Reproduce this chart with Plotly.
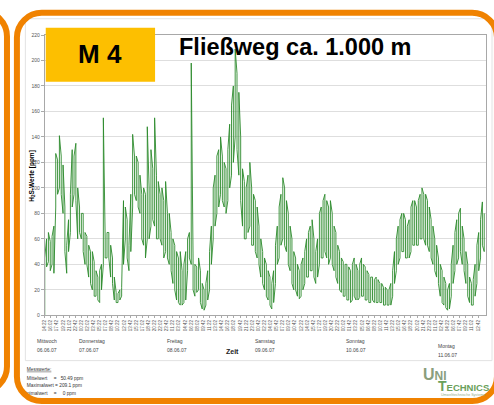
import plotly.graph_objects as go

W, H = 494, 405

# ---------------- data ----------------
# H2S readings, summarised per 30-minute bin (lowest / highest reading in the bin),
# first bin: Wed 06.06.07 14:22
bin_hours = 0.5
h2s_min = [
    0, 38, 42, 35, 40, 33, 85, 95, 100, 95, 80, 50, 33, 50, 65, 85, 95, 90, 60, 65,
    60, 50, 40, 40, 30, 25, 20, 15, 15, 12, 10, 20, 40, 45, 45, 45, 30, 25, 12, 10,
    10, 12, 15, 40, 60, 45, 35, 50, 85, 95, 90, 85, 80, 60, 55, 45, 60, 60, 70, 75,
    70, 60, 60, 60, 55, 45, 50, 45, 40, 35, 25, 20, 12, 10, 8, 8, 10, 12, 35, 45,
    40, 20, 15, 18, 20, 10, 5, 4, 8, 12, 20, 40, 60, 70, 80, 85, 95, 90, 85, 80,
    90, 100, 110, 120, 140, 130, 110, 90, 70, 60, 60, 65, 70, 55, 55, 50, 45, 40, 30, 25,
    20, 15, 12, 8, 5, 10, 25, 40, 45, 55, 60, 55, 50, 40, 35, 25, 20, 20, 15, 13,
    15, 20, 25, 30, 30, 35, 35, 30, 25, 30, 40, 45, 45, 50, 45, 40, 45, 40, 35, 30,
    25, 20, 18, 15, 15, 12, 12, 10, 12, 15, 12, 12, 14, 15, 15, 12, 12, 10, 10, 12,
    10, 10, 10, 10, 10, 8, 8, 8, 8, 8, 15, 25, 35, 40, 45, 50, 50, 45, 45, 45,
    50, 55, 55, 55, 55, 60, 60, 60, 55, 55, 50, 45, 40, 35, 30, 25, 15, 10, 8, 6,
    4, 5, 15, 25, 35, 40, 45, 50, 40, 35, 25, 15, 10, 8, 8, 15, 25, 35, 45, 55,
    50,
]
h2s_max = [
    45, 60, 65, 58, 62, 70, 127, 122, 141, 125, 118, 85, 55, 75, 95, 130, 125, 135, 100, 85,
    80, 80, 65, 62, 55, 50, 50, 42, 35, 30, 35, 40, 155, 60, 65, 65, 55, 45, 30, 18,
    17, 20, 22, 90, 85, 75, 55, 95, 142, 125, 125, 120, 110, 95, 100, 95, 148, 100, 130, 115,
    155, 110, 105, 95, 100, 90, 105, 80, 80, 65, 60, 55, 50, 45, 50, 35, 40, 50, 60, 65,
    198, 45, 40, 38, 45, 35, 25, 20, 25, 35, 50, 70, 100, 110, 125, 130, 140, 125, 120, 115,
    130, 150, 165, 180, 209, 190, 175, 140, 115, 105, 100, 110, 120, 100, 95, 90, 85, 70, 60, 50,
    45, 40, 35, 30, 25, 35, 55, 70, 85, 95, 108, 100, 90, 80, 70, 60, 50, 45, 40, 35,
    40, 45, 50, 60, 65, 70, 75, 60, 50, 60, 80, 85, 90, 95, 90, 85, 90, 80, 70, 65,
    55, 50, 45, 42, 40, 40, 38, 35, 40, 45, 40, 35, 40, 45, 40, 38, 35, 32, 30, 30,
    28, 30, 28, 25, 25, 22, 22, 20, 20, 25, 35, 50, 60, 70, 75, 80, 80, 75, 70, 75,
    85, 90, 90, 85, 90, 95, 100, 95, 95, 90, 85, 75, 70, 60, 55, 45, 40, 35, 30, 25,
    20, 25, 40, 55, 65, 75, 80, 84, 70, 60, 50, 40, 30, 25, 28, 40, 55, 65, 75, 89,
    80,
]
time_labels = [
    "14:22", "16:02", "17:42", "19:22", "21:02", "22:42",
    "00:22", "02:02", "03:42", "05:22", "07:02", "08:42", "10:22", "12:02", "13:42",
    "15:22", "17:02", "18:42", "20:22", "22:02", "23:42",
    "01:22", "03:02", "04:42", "06:22", "08:02", "09:42", "11:22", "13:02", "14:42",
    "16:22", "18:02", "19:42", "21:22", "23:02",
    "00:42", "02:22", "04:02", "05:42", "07:22", "09:02", "10:42", "12:22", "14:02",
    "15:42", "17:22", "19:02", "20:42", "22:22",
    "00:02", "01:42", "03:22", "05:02", "06:42", "08:22", "10:02", "11:42", "13:22",
    "15:02", "16:42", "18:22", "20:02", "21:42", "23:22",
    "01:02", "02:42", "04:22", "06:02", "07:42", "09:22", "11:02", "12:42",
]
tick_step_hours = 100 / 60
y_ticks = [0, 20, 40, 60, 80, 100, 120, 140, 160, 180, 200, 220]
day_names = ["Mittwoch", "Donnerstag", "Freitag", "Samstag", "Sonntag", "Montag"]
day_dates = ["06.06.07", "07.06.07", "08.06.07", "09.06.07", "10.06.07", "11.06.07"]
stat_names = ["Mittelwert", "Maximalwert", "Minimalwert"]
stat_values = ["50.49 ppm", "209.1 ppm", "0 ppm"]

# ---------------- helpers ----------------
def px(x):
    return x / W


def py(y):
    return 1 - y / H


def rrect(x0, y0, x1, y1, r):
    k = 0.5523 * r
    P = lambda x, y: f"{px(x):.5f},{py(y):.5f}"
    return (
        f"M {P(x0 + r, y0)} L {P(x1 - r, y0)} "
        f"C {P(x1 - r + k, y0)} {P(x1, y0 + r - k)} {P(x1, y0 + r)} "
        f"L {P(x1, y1 - r)} "
        f"C {P(x1, y1 - r + k)} {P(x1 - r + k, y1)} {P(x1 - r, y1)} "
        f"L {P(x0 + r, y1)} "
        f"C {P(x0 + r - k, y1)} {P(x0, y1 - r + k)} {P(x0, y1 - r)} "
        f"L {P(x0, y0 + r)} "
        f"C {P(x0, y0 + r - k)} {P(x0 + r - k, y0)} {P(x0 + r, y0)} Z"
    )


FONT = "Liberation Sans, Arial, sans-serif"
ORANGE = "#F08200"

# min/max envelope drawn as one continuous stroke (each bin: a vertical stroke)
xs, ys = [], []
for i, (lo, hi) in enumerate(zip(h2s_min, h2s_max)):
    t = i * bin_hours
    pair = (lo, hi) if i % 2 == 0 else (hi, lo)
    xs += [t, t]
    ys += list(pair)
tickvals = [k * tick_step_hours for k in range(len(time_labels))]

fig = go.Figure()
fig.add_trace(go.Scatter(
    x=xs, y=ys, mode="lines",
    line=dict(color="#2b8a2b", width=0.9),
    hoverinfo="skip", showlegend=False, xaxis="x", yaxis="y",
))

# footer texts (text traces, so the orange border can cover them)
tf = dict(size=4.8, color="#333", family=FONT)
def T(x, y, s):
    fig.add_trace(go.Scatter(
        x=[x], y=[y], mode="text", text=[s], textposition="middle right", textfont=tf,
        xaxis="x2", yaxis="y2", showlegend=False, hoverinfo="skip", cliponaxis=False,
    ))

T(24, 372, "<u>Messwerte:</u>")
T(24, 381, stat_names[0]); T(51, 381, "="); T(58, 381, stat_values[0])
T(24, 389, f"{stat_names[1]} = {stat_values[1]}")
T(19, 397, stat_names[2]); T(51, 397, "="); T(60, 397, stat_values[2])

P = dict(xref="paper", yref="paper")
shapes = [
    dict(type="rect", **P, x0=px(22.5), x1=px(492), y0=py(363), y1=py(16),
         line=dict(color="#e2e2e2", width=1), layer="below"),
    dict(type="rect", **P, x0=px(43), x1=px(153), y0=py(80), y1=py(25),
         fillcolor="#FDBF00", line=dict(width=0), layer="above"),
    dict(type="path", **P, path=rrect(-60, 8, 4, 395, 26),
         line=dict(color=ORANGE, width=6), layer="above"),
    dict(type="path", **P, path=rrect(14, 10, 497, 404, 25),
         line=dict(color=ORANGE, width=6), layer="above"),
]

ann = []
def A(x, y, text, size, color="black", xanchor="left", **kw):
    ann.append(dict(xref="paper", yref="paper", x=px(x), y=py(y), text=text, showarrow=False,
                    xanchor=xanchor, yanchor="middle",
                    font=dict(size=size, color=color, family=FONT), **kw))

A(97.5, 52, "<b>M 4</b>", 26, xanchor="center")
A(175, 45, "<b>Fließweg ca. 1.000 m</b>", 23.5)
A(29.5, 175, "<b>H<sub>2</sub>S-Werte [ppm]</b>", 6.5, xanchor="center", textangle=-90)

day_px = [32, 74, 163, 252, 343, 436]
day_y1 = [343, 343, 343, 343, 343, 348]
for name, date, x, y in zip(day_names, day_dates, day_px, day_y1):
    A(x, y, name, 5, "#444")
    A(x, y + 9, date, 5, "#444")
A(231, 354, "<b>Zeit</b>", 7, "#222", xanchor="center")

# logo
A(421, 377, "<b>U<span style='font-size:12px'>NI</span></b>", 16, "#8a9e7c")
A(436, 389, "<b>T<span style='font-size:9.5px'>ECHNICS</span></b>", 14, "#6aa05a")
A(439, 397.5, "Umwelttechnische Systeme", 3.6, "#8fae8a")

fig.update_layout(
    width=W, height=H,
    margin=dict(l=0, r=0, t=0, b=0),
    paper_bgcolor="white", plot_bgcolor="rgba(0,0,0,0)",
    showlegend=False,
    shapes=shapes, annotations=ann,
    xaxis=dict(
        domain=[px(42), px(486)], range=[0, 120.5],
        tickmode="array", tickvals=tickvals, ticktext=time_labels, tickangle=-90,
        tickfont=dict(size=4.5, color="#555", family=FONT),
        ticks="outside", ticklen=2, tickcolor="#aaa",
        showline=True, linecolor="#a8a8a8", linewidth=1, mirror=True,
        showgrid=False, zeroline=False, fixedrange=True,
    ),
    yaxis=dict(
        domain=[py(317), py(32.5)], range=[0, 220],
        tickmode="array", tickvals=y_ticks,
        tickfont=dict(size=5, color="#555", family=FONT),
        ticks="outside", ticklen=3, tickcolor="#aaa",
        showline=True, linecolor="#a8a8a8", linewidth=1, mirror=True,
        showgrid=True, gridcolor="#dedede", gridwidth=1, zeroline=False, fixedrange=True,
    ),
    xaxis2=dict(domain=[0, 1], range=[0, W], visible=False, anchor="y2", fixedrange=True),
    yaxis2=dict(domain=[0, 1], range=[H, 0], visible=False, anchor="x2", fixedrange=True),
)

fig.write_html("out.html", config={"displayModeBar": False},
               post_script="document.body.style.margin='0';")
